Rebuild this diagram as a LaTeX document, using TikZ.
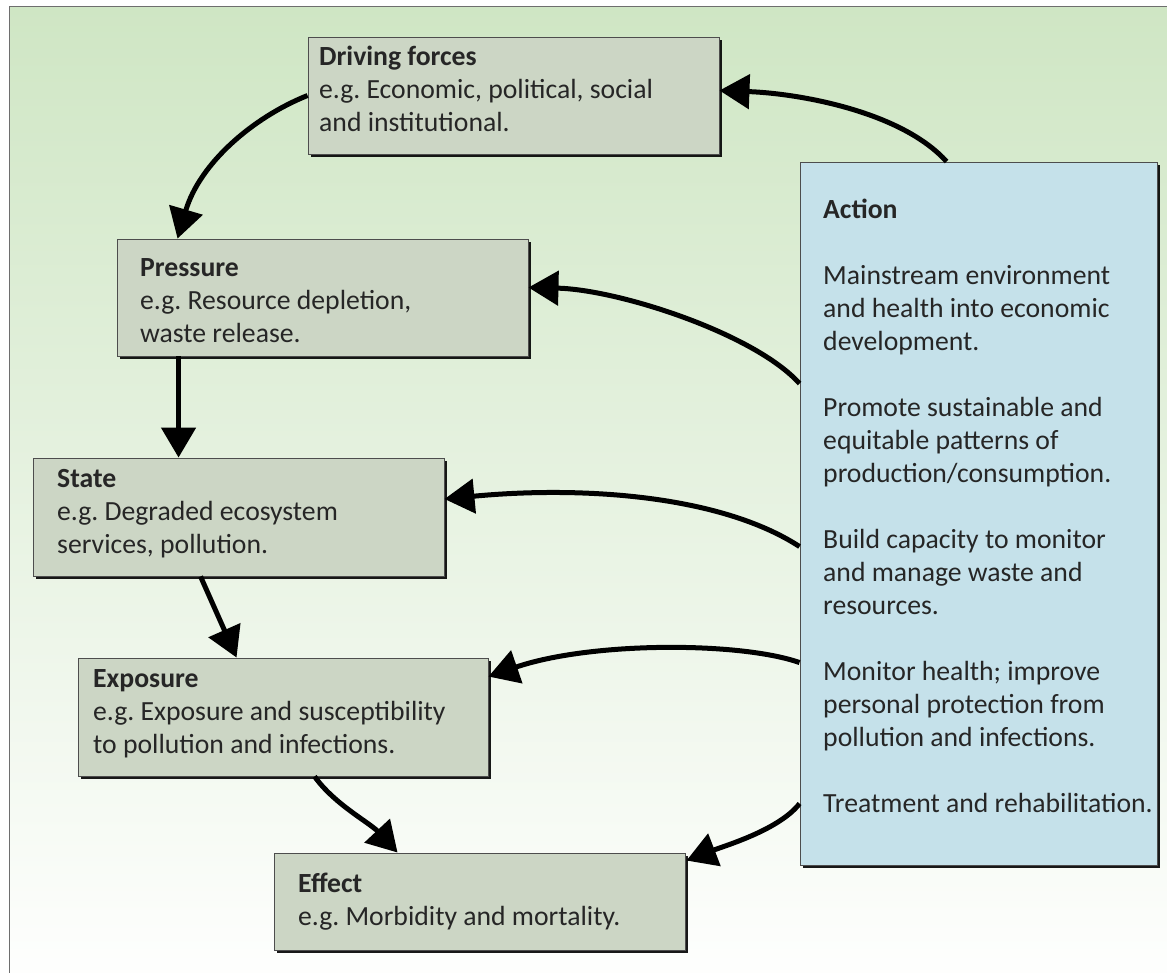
\documentclass[tikz,border=0pt]{standalone}
\usepackage{fontspec}
\setmainfont{Carlito}
\usetikzlibrary{arrows.meta,calc,shadows}
\definecolor{bgtop}{HTML}{CFE6C4}
\definecolor{boxfill}{HTML}{CCD6C5}
\definecolor{actfill}{HTML}{C5E1EA}
\definecolor{boxline}{HTML}{4D4D4D}
\definecolor{txt}{HTML}{262626}
\definecolor{framec}{HTML}{6E6E6E}
\frenchspacing
\begin{document}
\begin{tikzpicture}[x=1pt,y=-1pt,
  boxstyle/.style={draw=boxline, line width=0.9pt, fill=boxfill, rectangle, inner sep=0pt,
    drop shadow={shadow xshift=2.5pt, shadow yshift=-2.5pt, fill=black, opacity=0.9}},
  actstyle/.style={boxstyle, fill=actfill},
  txtstyle/.style={anchor=north west, inner sep=0pt, align=left, text=txt,
    font=\fontsize{27.7}{33}\selectfont\frenchspacing},
  arr/.style={line width=5pt, draw=black, -{Triangle[length=30pt,width=34pt]}}]
\useasboundingbox (0,0) rectangle (1167,972);
\clip (0,0) rectangle (1167,972);
% background
\fill[top color=bgtop, bottom color=white] (9,6) rectangle (1200,1000);
\draw[framec, line width=1pt] (1200,6) -- (9,6) -- (9,1000);
% boxes
\node[boxstyle, minimum width=411pt, minimum height=117pt] (df) at (513.5,95.5) {};
\node[boxstyle, minimum width=411pt, minimum height=117pt] (pr) at (322.5,297.5) {};
\node[boxstyle, minimum width=411pt, minimum height=118pt] (st) at (238.5,517) {};
\node[boxstyle, minimum width=410pt, minimum height=118pt] (ex) at (283,717) {};
\node[boxstyle, minimum width=411pt, minimum height=97pt] (ef) at (479.5,901.5) {};
\node[actstyle, minimum width=357pt, minimum height=703pt] (ac) at (978.5,513.5) {};
% texts
\node[txtstyle] (dft) at (319,43) {\rule{0pt}{22pt}\textbf{Driving forces}\\e.g. Economic, political, social\\and institutional.};
\node[txtstyle] (prt) at (140,254) {\rule{0pt}{22pt}\textbf{Pressure}\\e.g. Resource depletion,\\waste release.};
\node[txtstyle] (stt) at (57,465) {\rule{0pt}{22pt}\textbf{State}\\e.g. Degraded ecosystem\\services, pollution.};
\node[txtstyle] (ext) at (93,665) {\rule{0pt}{22pt}\textbf{Exposure}\\e.g. Exposure and susceptibility\\to pollution and infections.};
\node[txtstyle] (eft) at (298,870) {\rule{0pt}{22pt}\textbf{Effect}\\e.g. Morbidity and mortality.};
\node[txtstyle] (act) at (823,196) {\rule{0pt}{22pt}\textbf{Action}\\[33pt]
Mainstream environment\\and health into economic\\development.\\[33pt]
Promote sustainable and\\equitable patterns of\\production/consumption.\\[33pt]
Build capacity to monitor\\and manage waste and\\resources.\\[33pt]
Monitor health; improve\\personal protection from\\pollution and infections.\\[33pt]
Treatment and rehabilitation.};
% connectors
\draw[arr] (df.west) .. controls +(-55,22) and +(22,-75) .. ($(pr.north west)+(61,0)$);
\draw[arr] ($(pr.south west)+(62,0)$) -- ($(st.north west)+(146,0)$);
\draw[arr] ($(st.south west)+(168,0)$) -- ($(ex.north west)+(159,0)$);
\draw[arr] ($(ex.south west)+(237,0)$) .. controls +(20,28) and +(-28,-30) .. ($(ef.north west)+(124,0)$);
\draw[arr] ($(ac.north west)+(147,0)$) .. controls +(-45,-50) and +(80,3) .. ($(df.east)+(0,-5)$);
\draw[arr] ($(ac.north west)+(0,222)$) .. controls +(-45,-50) and +(90,2) .. ($(pr.east)+(0,-10)$);
\draw[arr] ($(ac.north west)+(0,385)$) .. controls +(-80,-52) and +(136,-13) .. ($(st.east)+(0,-18)$);
\draw[arr] ($(ac.north west)+(0,501)$) .. controls +(-60,-21) and +(102,-35) .. ($(ex.north east)+(0,19)$);
\draw[arr] ($(ac.north west)+(0,642)$) .. controls +(-20,26) and +(39,-15) .. ($(ef.north east)+(1,8)$);
\end{tikzpicture}
\end{document}
